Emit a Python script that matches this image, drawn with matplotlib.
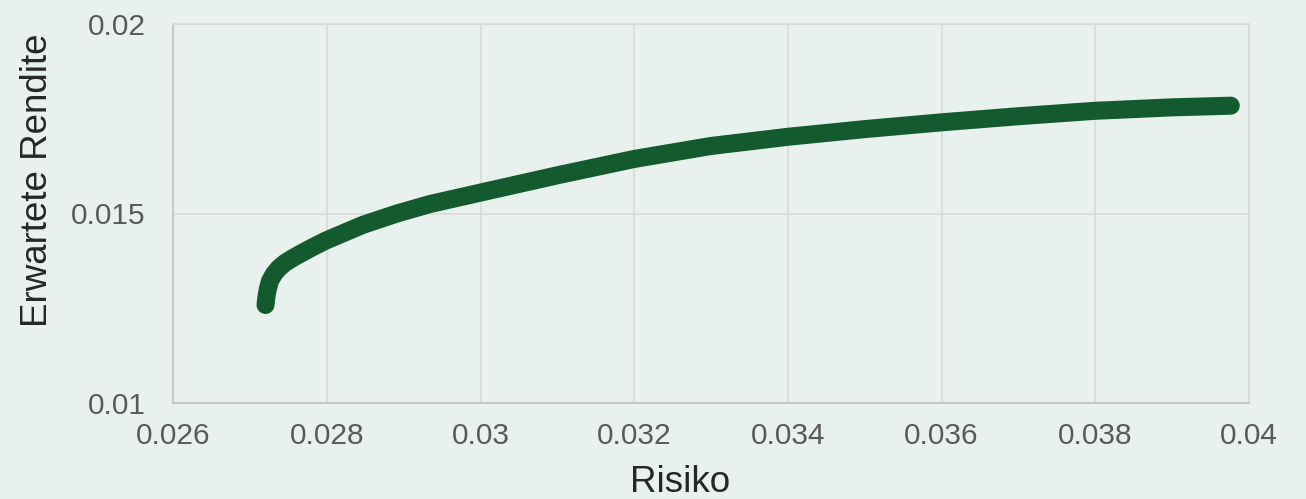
import matplotlib
matplotlib.use("Agg")
import matplotlib.pyplot as plt

# Efficient frontier
risk = [0.027200, 0.027212, 0.027230, 0.027258, 0.027310, 0.027375, 0.027453,
        0.027545, 0.027649, 0.027805, 0.027987, 0.028468, 0.028911, 0.029340,
        0.030004, 0.031000, 0.031995, 0.033000, 0.034012, 0.035000, 0.036003,
        0.037000, 0.037994, 0.039000, 0.039763]
ret = [0.012582, 0.012800, 0.013000, 0.013216, 0.013401, 0.013560, 0.013693,
       0.013811, 0.013930, 0.014100, 0.014286, 0.014700, 0.015000, 0.015250,
       0.015555, 0.016010, 0.016440, 0.016785, 0.017030, 0.017230, 0.017410,
       0.017571, 0.017714, 0.017805, 0.017849]

x_ticks = [0.026, 0.028, 0.03, 0.032, 0.034, 0.036, 0.038, 0.04]
x_tick_labels = ["0.026", "0.028", "0.03", "0.032", "0.034", "0.036", "0.038", "0.04"]
y_ticks = [0.01, 0.015, 0.02]
y_tick_labels = ["0.01", "0.015", "0.02"]

BG = "#E9F1EE"
GREEN = "#145A2F"
GRID = "#D9D9D9"
TXT = "#595959"

plt.rcParams["font.family"] = ["Liberation Sans", "DejaVu Sans"]

W, H = 1306, 499
fig = plt.figure(figsize=(W / 100, H / 100), dpi=100, facecolor=BG)
ax = fig.add_axes([173.3 / W, 1 - 402.7 / H, (1249 - 173.3) / W, (402.7 - 24.3) / H])
ax.set_facecolor(BG)

ax.plot(risk, ret, color=GREEN, linewidth=13, solid_capstyle="round",
        solid_joinstyle="round", zorder=3)

ax.set_xlim(0.026, 0.04)
ax.set_ylim(0.01, 0.02)
ax.set_xticks(x_ticks)
ax.set_xticklabels(x_tick_labels)
ax.set_yticks(y_ticks)
ax.set_yticklabels(y_tick_labels)
ax.grid(True, color=GRID, linewidth=1.2, zorder=0)
ax.set_axisbelow(True)
ax.tick_params(axis="both", length=0, labelsize=21.5, colors=TXT)
ax.tick_params(axis="x", pad=14)
ax.tick_params(axis="y", pad=20)
for s in ["top", "right"]:
    ax.spines[s].set_color(GRID)
    ax.spines[s].set_linewidth(1.2)
for s in ["left", "bottom"]:
    ax.spines[s].set_color("#C8C8C8")
    ax.spines[s].set_linewidth(1.5)

fig.text(680 / W, 1 - 482 / H, "Risiko", fontsize=26.5, color="#262626",
         ha="center", va="center")
fig.text(38 / W, 1 - 180 / H, "Erwartete Rendite", fontsize=26.5, color="#262626",
         ha="center", va="center", rotation=90)

fig.savefig("out.png", dpi=100, facecolor=BG)
